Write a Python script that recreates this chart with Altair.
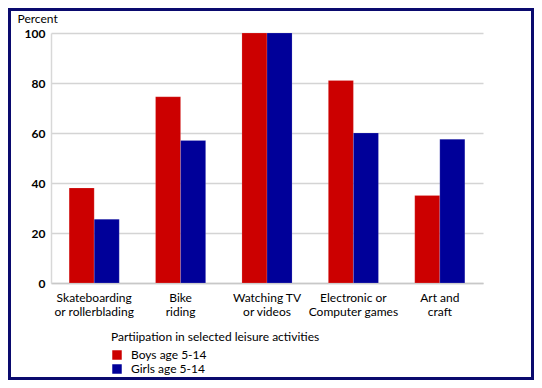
import altair as alt
import pandas as pd

categories = ["Skateboarding\nor rollerblading", "Bike\nriding", "Watching TV\nor videos",
              "Electronic or\nComputer games", "Art and\ncraft"]
series = ["Boys age 5-14", "Girls age 5-14"]
boys = [38, 74.5, 100, 81, 35]
girls = [25.5, 57, 100, 60, 57.5]
colors = ["#CC0000", "#000099"]
y_ticks = [0, 20, 40, 60, 80, 100]

rows = []
for c, b, g in zip(categories, boys, girls):
    rows.append({"activity": c, "group": series[0], "value": b})
    rows.append({"activity": c, "group": series[1], "value": g})
df = pd.DataFrame(rows)

FONT = "Lato"

bars = alt.Chart(df).mark_bar(stroke="#ffffff", strokeWidth=0.3, strokeOpacity=0.5).encode(
    x=alt.X("activity:N", sort=categories,
            scale=alt.Scale(paddingInner=0.42, paddingOuter=0.21),
            axis=alt.Axis(title=None, labelAngle=0, ticks=False, domain=True,
                          domainColor="#c8c8c8", domainWidth=1.5,
                          labelExpr="split(datum.label, '\\n')",
                          labelPadding=9, labelFontSize=12, labelLineHeight=14,
                          labelColor="#000000", labelFont=FONT)),
    xOffset=alt.XOffset("group:N", sort=series),
    y=alt.Y("value:Q", scale=alt.Scale(domain=[0, 100], nice=False),
            axis=alt.Axis(values=y_ticks, title="Percent", titleAngle=0,
                          titleX=-34, titleY=-11, titleAlign="left",
                          titleBaseline="alphabetic",
                          titleFontSize=12, titleFontWeight="normal", titleFont=FONT,
                          ticks=False, domain=True, domainColor="#d8d8d8",
                          domainWidth=1.5, grid=True, gridColor="#d4d4d4",
                          gridWidth=1.5, labelPadding=6, labelFontSize=12,
                          labelFontWeight="bold", labelColor="#000000", labelFont=FONT)),
    color=alt.Color("group:N", sort=series,
                    scale=alt.Scale(domain=series, range=colors),
                    legend=alt.Legend(title="Partiipation in selected leisure activities",
                                      orient="none", legendX=60, legendY=299,
                                      symbolType="square", symbolSize=90,
                                      symbolStrokeWidth=0, titleFontSize=12,
                                      titleFontWeight="normal", titleFont=FONT,
                                      titleLimit=400, titlePadding=5,
                                      labelFontSize=12, labelFont=FONT,
                                      labelOffset=8, rowPadding=2,
                                      titleColor="#000000", labelColor="#000000")),
)

frame = alt.Chart(pd.DataFrame({"k": [0]})).mark_rect(
    fill=None, stroke="#0a0a6e", strokeWidth=3, clip=False
).encode(
    x=alt.value(-41.5), x2=alt.value(481.5), y=alt.value(-23.5), y2=alt.value(345.5)
)

chart = alt.layer(bars, frame).properties(
    width=432, height=250,
    autosize=alt.AutoSizeParams(type="none"),
    padding={"left": 43, "top": 25, "right": 51, "bottom": 97},
    background="#ffffff",
).configure_view(stroke=None)

chart.save("out.html", embed_options={"renderer": "svg", "actions": False})
